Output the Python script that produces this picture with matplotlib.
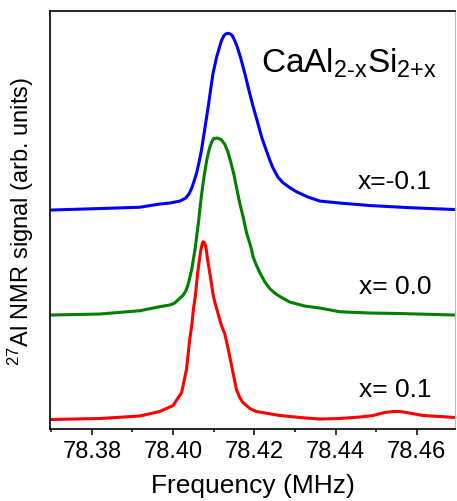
import matplotlib
matplotlib.use("Agg")
import matplotlib.pyplot as plt
from matplotlib.ticker import MultipleLocator

plt.rcParams["font.family"] = ["Liberation Sans", "DejaVu Sans"]
plt.rcParams["mathtext.fontset"] = "custom"
plt.rcParams["mathtext.rm"] = "Liberation Sans"
plt.rcParams["mathtext.it"] = "Liberation Sans"

# spectra (frequency in MHz, signal in arb. units above baseline)
freq_m01 = [78.3701, 78.3820, 78.3918, 78.3967, 78.3992, 78.4017, 78.4031, 78.4039,
            78.4045, 78.4051, 78.4058, 78.4064, 78.4070, 78.4078, 78.4086, 78.4092,
            78.4098, 78.4107, 78.4113, 78.4119, 78.4125, 78.4130, 78.4136, 78.4141,
            78.4146, 78.4152, 78.4158, 78.4166, 78.4177, 78.4187, 78.4196, 78.4207,
            78.4218, 78.4230, 78.4238, 78.4246, 78.4258, 78.4270, 78.4287, 78.4305,
            78.4332, 78.4361, 78.4410, 78.4484, 78.4575, 78.4632, 78.4694]
sig_m01 = [0.00, 0.015, 0.028, 0.06, 0.07, 0.09, 0.12, 0.16,
           0.21, 0.28, 0.37, 0.48, 0.60, 0.81, 1.02, 1.19,
           1.36, 1.527, 1.61, 1.693, 1.743, 1.762, 1.767, 1.76,
           1.743, 1.693, 1.63, 1.527, 1.36, 1.193, 1.05, 0.893,
           0.73, 0.59, 0.50, 0.42, 0.33, 0.275, 0.225, 0.18,
           0.13, 0.09, 0.07, 0.045, 0.025, 0.015, 0.005]

freq_00 = [78.3701, 78.3820, 78.3918, 78.3967, 78.3992, 78.4004, 78.4025, 78.4031,
           78.4036, 78.4041, 78.4046, 78.4054, 78.4062, 78.4066, 78.4070, 78.4074,
           78.4078, 78.4083, 78.4089, 78.4095, 78.4100, 78.4109, 78.4118, 78.4127,
           78.4135, 78.4142, 78.4150, 78.4157, 78.4164, 78.4172, 78.4181, 78.4193,
           78.4197, 78.4206, 78.4214, 78.4226, 78.4238, 78.4250, 78.4263, 78.4287,
           78.4324, 78.4361, 78.4410, 78.4484, 78.4558, 78.4694]
sig_00 = [0.00, 0.01, 0.043, 0.083, 0.10, 0.12, 0.20, 0.24,
          0.29, 0.37, 0.46, 0.655, 0.91, 1.06, 1.20, 1.32,
          1.43, 1.55, 1.66, 1.73, 1.765, 1.77, 1.755, 1.71,
          1.63, 1.53, 1.40, 1.26, 1.12, 0.99, 0.82, 0.66,
          0.58, 0.49, 0.42, 0.33, 0.265, 0.22, 0.185, 0.13,
          0.09, 0.07, 0.033, 0.02, 0.015, 0.00]

freq_01 = [78.3701, 78.3820, 78.3918, 78.3967, 78.4000, 78.4021, 78.4033, 78.4041,
           78.4046, 78.4050, 78.4055, 78.4060, 78.4064, 78.4068, 78.4072, 78.4074,
           78.4077, 78.4081, 78.4086, 78.4093, 78.4099, 78.4103, 78.4110, 78.4119,
           78.4127, 78.4136, 78.4144, 78.4150, 78.4156, 78.4164, 78.4172, 78.4189,
           78.4205, 78.4263, 78.4312, 78.4361, 78.4410, 78.4460, 78.4492, 78.4521,
           78.4542, 78.4558, 78.4575, 78.4595, 78.4615, 78.4657, 78.4694]
sig_01 = [0.00, 0.01, 0.035, 0.08, 0.14, 0.27, 0.50, 0.80,
          0.94, 1.10, 1.24, 1.45, 1.57, 1.69, 1.76, 1.778,
          1.77, 1.72, 1.572, 1.40, 1.238, 1.17, 1.07, 0.94,
          0.86, 0.70, 0.54, 0.42, 0.30, 0.22, 0.17, 0.11,
          0.08, 0.04, 0.02, 0.005, 0.01, 0.025, 0.04, 0.07,
          0.08, 0.08, 0.07, 0.055, 0.04, 0.03, 0.02]

offsets = [2.19, 1.14, 0.095]
labels = ["x=-0.1", "x= 0.0", "x= 0.1"]
label_y = [2.48, 1.43, 0.40]
colors = ["#0000ff", "#008000", "#ff0000"]

fig = plt.figure(figsize=(4.57, 5.02), dpi=100)
ax = fig.add_axes([0.1094, 0.1434, 0.8862, 0.8326])

series = [(freq_m01, sig_m01), (freq_00, sig_00), (freq_01, sig_01)]
for (f, s), off, c, lab, ly in zip(series, offsets, colors, labels, label_y):
    ax.plot(f, [v + off for v in s], color=c, lw=2.2, solid_joinstyle="round")
    ax.text(78.4637, ly, lab, ha="right", va="center", fontsize=19)

ax.text(78.4216, 3.57, r"CaAl$_{\mathregular{2\text{-}x}}$Si$_{\mathregular{2{+}x}}$",
        ha="left", va="baseline", fontsize=24)

ax.set_xlim(78.3697, 78.4694)
ax.set_ylim(0, 4.18)
ax.xaxis.set_major_locator(MultipleLocator(0.02))
ax.xaxis.set_minor_locator(MultipleLocator(0.01))
ax.xaxis.set_major_formatter(plt.FormatStrFormatter("%.2f"))
ax.set_yticks([])
ax.tick_params(axis="x", which="major", direction="out", length=4, width=1.1,
               labelsize=17, pad=4)
ax.tick_params(axis="x", which="minor", direction="out", length=2.5, width=1.1)
for side in ["left", "bottom", "top"]:
    ax.spines[side].set_linewidth(1.2)
ax.spines["right"].set_color("#bbbbbb")

ax.set_xlabel("Frequency (MHz)", fontsize=19, labelpad=8)
ax.set_ylabel(r"$\mathregular{^{27}}$Al NMR signal (arb. units)", fontsize=17, labelpad=10)

fig.savefig("out.png", dpi=100)
